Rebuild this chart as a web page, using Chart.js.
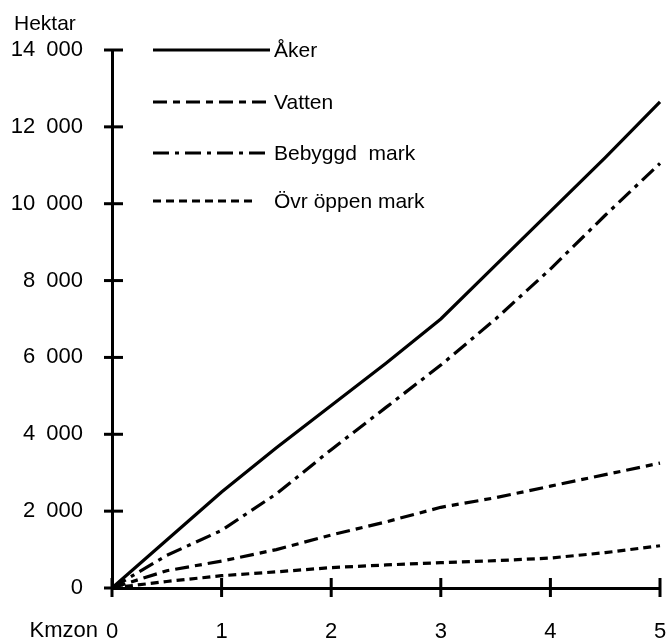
<!DOCTYPE html>
<html>
<head>
<meta charset="utf-8">
<script src="https://cdn.jsdelivr.net/npm/chart.js@4/dist/chart.umd.min.js"></script>
<style>
  html, body { margin: 0; padding: 0; background: #fff; }
  #wrap { width: 672px; height: 638px; }
</style>
</head>
<body>
<div id="wrap"><canvas id="chart" width="672" height="638"></canvas></div>
<script>
// values, hektar per km zone
const kmzon = [0, 0.5, 1, 1.5, 2, 2.5, 3, 3.5, 4, 4.5, 5];
const aker = [0, 1250, 2500, 3650, 4750, 5850, 7000, 8400, 9800, 11200, 12650];
const vatten = [0, 450, 700, 1000, 1380, 1720, 2100, 2350, 2650, 2950, 3250];
const bebyggd = [0, 850, 1500, 2450, 3600, 4700, 5800, 7000, 8300, 9700, 11050];
const ovrOppen = [0, 170, 320, 420, 530, 600, 660, 710, 780, 920, 1100];

const seriesNames = ['Åker', 'Vatten', 'Bebyggd  mark', 'Övr öppen mark'];
const xTicks = [0, 1, 2, 3, 4, 5];
const yTicks = [0, 2000, 4000, 6000, 8000, 10000, 12000, 14000];

const FONT = '"Liberation Sans", Arial, sans-serif';

const toPoints = (values) => values.map((v, i) => ({ x: kmzon[i], y: v }));

// "14 000" with a wide gap like the original print
const fmt = (v) => String(v).replace(/\B(?=(\d{3})+$)/g, '\u2002');

const makeSet = (label, values, dash) => ({
  label: label,
  data: toPoints(values),
  borderColor: '#000',
  borderWidth: 3.2,
  borderDash: dash,
  pointRadius: 0,
  tension: 0,
  fill: false,
  clip: false,
});

// legend lines drawn inside the plot, like the original
const legendPlugin = {
  id: 'inlineLegend',
  afterDraw(chart) {
    const ctx = chart.ctx;
    const rows = [50, 102, 153, 201];
    const ends = [270, 267, 267, 256];
    ctx.save();
    chart.data.datasets.forEach((ds, i) => {
      ctx.beginPath();
      ctx.setLineDash(ds.borderDash || []);
      ctx.lineWidth = 3;
      ctx.strokeStyle = '#000';
      ctx.moveTo(153, rows[i]);
      ctx.lineTo(ends[i], rows[i]);
      ctx.stroke();
      ctx.setLineDash([]);
      ctx.fillStyle = '#000';
      ctx.font = '21px ' + FONT;
      ctx.textAlign = 'left';
      ctx.textBaseline = 'middle';
      ctx.fillText(ds.label, 274, rows[i] + 1);
    });
    ctx.restore();
  },
};

// cross-shaped tick marks and the two axis captions
const axisPlugin = {
  id: 'axisMarks',
  afterDraw(chart) {
    const ctx = chart.ctx;
    const xs = chart.scales.x;
    const ys = chart.scales.y;
    const area = chart.chartArea;
    ctx.save();
    ctx.strokeStyle = '#000';
    ctx.lineWidth = 3;
    yTicks.forEach((t) => {
      const py = ys.getPixelForValue(t);
      ctx.beginPath();
      ctx.moveTo(area.left - 8, py);
      ctx.lineTo(area.left + 11, py);
      ctx.stroke();
    });
    xTicks.forEach((t) => {
      const px = xs.getPixelForValue(t);
      ctx.beginPath();
      ctx.moveTo(px, area.bottom - 10);
      ctx.lineTo(px, area.bottom + 9);
      ctx.stroke();
    });
    ctx.fillStyle = '#000';
    ctx.font = '21px ' + FONT;
    ctx.textBaseline = 'middle';
    ctx.textAlign = 'left';
    ctx.fillText('Hektar', 14, 24);
    ctx.textAlign = 'right';
    ctx.font = '22px ' + FONT;
    ctx.fillText('Kmzon', 98, 631);
    ctx.restore();
  },
};

new Chart(document.getElementById('chart'), {
  type: 'line',
  data: {
    datasets: [
      makeSet(seriesNames[0], aker, []),
      makeSet(seriesNames[1], vatten, [14, 6, 7, 6]),
      makeSet(seriesNames[2], bebyggd, [16, 6, 4, 6]),
      makeSet(seriesNames[3], ovrOppen, [8, 5]),
    ],
  },
  options: {
    responsive: false,
    animation: false,
    devicePixelRatio: 1,
    layout: { padding: { left: 0, right: 12, top: 50, bottom: 0 } },
    plugins: {
      legend: { display: false },
      tooltip: { enabled: false },
    },
    scales: {
      x: {
        type: 'linear',
        min: 0,
        max: 5,
        afterFit: (s) => {
          s.height = 50;
          s.paddingLeft = 0;
          s.paddingRight = 0;
        },
        afterBuildTicks: (s) => { s.ticks = xTicks.map((v) => ({ value: v })); },
        grid: { display: false },
        border: { display: true, color: '#000', width: 3 },
        ticks: {
          color: '#000',
          padding: 23,
          maxRotation: 0,
          font: { family: FONT, size: 22 },
        },
      },
      y: {
        min: 0,
        max: 14000,
        afterFit: (s) => { s.width = 112; },
        afterBuildTicks: (s) => { s.ticks = yTicks.map((v) => ({ value: v })); },
        grid: { display: false },
        border: { display: true, color: '#000', width: 3 },
        ticks: {
          color: '#000',
          padding: 21,
          font: { family: FONT, size: 22 },
          callback: (v) => fmt(v),
        },
      },
    },
  },
  plugins: [legendPlugin, axisPlugin],
});
</script>
</body>
</html>
